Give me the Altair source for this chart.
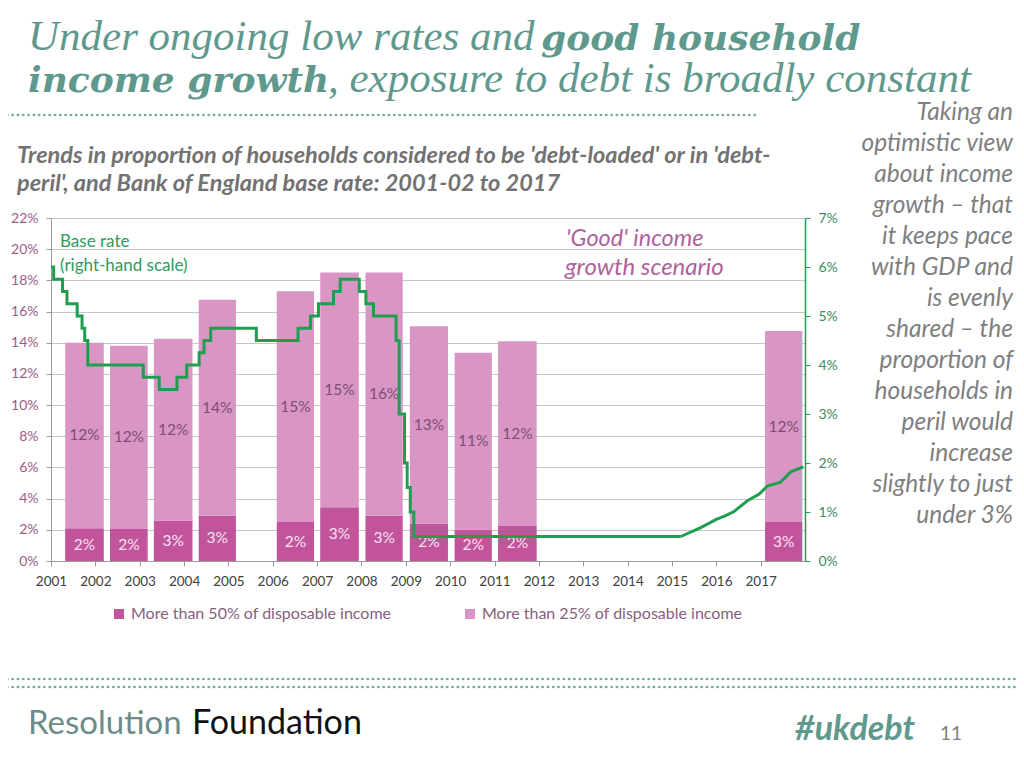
import altair as alt
import pandas as pd

# ---------------- data ----------------
bar_start = [2001.32, 2002.33, 2003.32, 2004.33, 2006.09, 2007.07, 2008.09, 2009.09, 2010.10, 2011.08, 2017.10]
bar_end = [2002.19, 2003.18, 2004.19, 2005.17, 2006.93, 2007.94, 2008.93, 2009.95, 2010.94, 2011.95, 2017.94]
over50 = [2.1, 2.05, 2.6, 2.9, 2.5, 3.45, 2.9, 2.4, 2.0, 2.25, 2.5]
over25 = [14.0, 13.8, 14.25, 16.75, 17.3, 18.5, 18.5, 15.05, 13.35, 14.1, 14.75]
label_low = ["2%", "2%", "3%", "3%", "2%", "3%", "3%", "2%", "2%", "2%", "3%"]
label_high = ["12%", "12%", "12%", "14%", "15%", "15%", "16%", "13%", "11%", "12%", "12%"]

rate_hist_year = [2001.0, 2001.06, 2001.26, 2001.36, 2001.59, 2001.70, 2001.76, 2001.83, 2003.08, 2003.44,
                  2003.84, 2004.06, 2004.34, 2004.45, 2004.60, 2005.63, 2006.57, 2006.85, 2007.03, 2007.37,
                  2007.52, 2007.95, 2008.10, 2008.27, 2008.78, 2008.85, 2008.97, 2009.03, 2009.10, 2009.18,
                  2015.20]
rate_hist_value = [6.0, 5.75, 5.5, 5.25, 5.0, 4.75, 4.5, 4.0, 3.75, 3.5,
                   3.75, 4.0, 4.25, 4.5, 4.75, 4.5, 4.75, 5.0, 5.25, 5.5,
                   5.75, 5.5, 5.25, 5.0, 4.5, 3.0, 2.0, 1.5, 1.0, 0.5,
                   0.5]
rate_proj_year = [2015.20, 2015.65, 2016.0, 2016.2, 2016.4, 2016.7, 2016.96, 2017.15, 2017.45, 2017.68, 2017.96]
rate_proj_value = [0.5, 0.68, 0.85, 0.92, 1.01, 1.23, 1.36, 1.53, 1.61, 1.82, 1.92]

year_ticks = list(range(2001, 2018))
left_ticks = list(range(0, 23, 2))
right_ticks = list(range(0, 8))

SER50 = "More than 50% of disposable income"
SER25 = "More than 25% of disposable income"

# ---------------- tables ----------------
rows = []
for s, e, a, b in zip(bar_start, bar_end, over50, over25):
    rows.append({"start": s, "end": e, "lo": 0.0, "hi": a, "series": SER50})
    rows.append({"start": s, "end": e, "lo": a, "hi": b, "series": SER25})
bars_df = pd.DataFrame(rows)

lab_df = pd.DataFrame({
    "start": bar_start, "end": bar_end, "d": over50, "t": over25,
    "low": label_low, "high": label_high,
})
hist_df = pd.DataFrame({"year": rate_hist_year, "rate": rate_hist_value})
proj_df = pd.DataFrame({"year": rate_proj_year, "rate": rate_proj_value})

# ---------------- style ----------------
DARK = "#C2549C"
LIGHT = "#D996C5"
GREEN = "#1F9E50"
TEAL = "#5F998D"
SANS = "Lato"

W, H = 754, 343
OX, OY = 51, 218  # plot origin on page

xscale = alt.Scale(domain=[2001, 2018], nice=False, zero=False)
xaxis = alt.Axis(values=year_ticks, format="d", title=None, grid=False, labelOverlap=False,
                 labelFlush=False, labelFont=SANS, labelFontSize=13.5, labelColor="#404040",
                 tickColor="#9a9a9a", domainColor="#9a9a9a", tickSize=5, labelPadding=8)
lscale = alt.Scale(domain=[0, 22], nice=False)
laxis = alt.Axis(values=left_ticks, labelExpr="datum.value + '%'", title=None,
                 grid=True, gridColor="#C6C6C6", gridWidth=1,
                 labelFont=SANS, labelFontSize=14, labelColor="#9B5C86",
                 tickColor="#9a9a9a", domainColor="#9a9a9a", tickSize=5, labelPadding=8)
rscale = alt.Scale(domain=[0, 7], nice=False)
raxis = alt.Axis(values=right_ticks, labelExpr="datum.value + '%'", title=None, orient="right",
                 grid=False, labelFont=SANS, labelFontSize=14, labelColor="#3C8C60",
                 tickColor=GREEN, domainColor=GREEN, domainWidth=1.5, tickSize=5, labelPadding=8)

bars = alt.Chart(bars_df).mark_bar(stroke=None).encode(
    x=alt.X("start:Q", scale=xscale, axis=xaxis),
    x2="end:Q",
    y=alt.Y("lo:Q", scale=lscale, axis=laxis),
    y2="hi:Q",
    color=alt.Color("series:N",
                    scale=alt.Scale(domain=[SER50, SER25], range=[DARK, LIGHT]),
                    legend=alt.Legend(title=None, orient="none", direction="horizontal",
                                      legendX=60, legendY=388, symbolType="square",
                                      symbolSize=100, symbolStrokeWidth=0, labelFont=SANS,
                                      labelFontSize=16, labelColor="#86607C",
                                      labelLimit=400, columnPadding=70, symbolOffset=0,
                                      labelOffset=4)),
)

base_lab = alt.Chart(lab_df).transform_calculate(
    xm="(datum.start + datum.end) / 2",
    ylow="datum.d / 2",
    yhigh="(datum.d + datum.t) / 2",
)
low_text = base_lab.mark_text(font=SANS, fontSize=15.5, color="#F7E1F1", baseline="middle").encode(
    x=alt.X("xm:Q", scale=xscale, axis=xaxis),
    y=alt.Y("ylow:Q", scale=lscale, axis=laxis),
    text="low:N",
)
high_text = base_lab.mark_text(font=SANS, fontSize=15.5, color="#7D4D73", baseline="middle").encode(
    x=alt.X("xm:Q", scale=xscale, axis=xaxis),
    y=alt.Y("yhigh:Q", scale=lscale, axis=laxis),
    text="high:N",
)

hist_line = alt.Chart(hist_df).mark_line(color=GREEN, strokeWidth=3, interpolate="step-after").encode(
    x=alt.X("year:Q", scale=xscale, axis=xaxis),
    y=alt.Y("rate:Q", scale=rscale, axis=raxis),
)
proj_line = alt.Chart(proj_df).mark_line(color=GREEN, strokeWidth=3).encode(
    x=alt.X("year:Q", scale=xscale, axis=xaxis),
    y=alt.Y("rate:Q", scale=rscale, axis=raxis),
)

one = pd.DataFrame({"a": [0]})


def txt(text, px, py, **kw):
    return alt.Chart(one).mark_text(baseline="alphabetic", **kw).encode(
        x=alt.value(px - OX), y=alt.value(py - OY), text=alt.value(text))


def dots(px1, px2, py):
    return alt.Chart(one).mark_rule(color="#6FA89A", strokeWidth=2.6, strokeDash=[0.1, 5.2],
                                    strokeCap="round").encode(
        x=alt.value(px1 - OX), x2=alt.value(px2 - OX), y=alt.value(py - OY))


SERIF = "Liberation Serif"
BSERIF = "DejaVu Serif"
annos = [
    txt("Under ongoing low rates and ", 28, 50, font=SERIF, fontSize=43, fontStyle="italic",
        color=TEAL, align="left"),
    txt("good household", 541, 50, font=BSERIF, fontSize=36, fontStyle="italic", fontWeight="bold",
        color=TEAL, align="left"),
    txt("income growth", 28, 92, font=BSERIF, fontSize=36, fontStyle="italic", fontWeight="bold",
        color=TEAL, align="left"),
    txt(", exposure to debt is broadly constant", 328, 92, font=SERIF, fontSize=43, fontStyle="italic",
        color=TEAL, align="left"),
    dots(2, 755, 115),
    txt("Trends in proportion of households considered to be 'debt-loaded' or in 'debt-", 17, 163,
        font=SANS, fontSize=23.5, fontWeight="bold", fontStyle="italic", color="#727272", align="left"),
    txt("peril', and Bank of England base rate: 2001-02 to 2017", 17, 191,
        font=SANS, fontSize=23.5, fontWeight="bold", fontStyle="italic", color="#727272", align="left"),
    txt("Base rate", 60, 247, font=SANS, fontSize=17, color="#2E9A5E", align="left"),
    txt("(right-hand scale)", 60, 271, font=SANS, fontSize=17, color="#2E9A5E", align="left"),
    txt("'Good' income", 566, 246, font=SANS, fontSize=23.5, fontStyle="italic", color="#B0629A",
        align="left"),
    txt("growth scenario", 565, 275, font=SANS, fontSize=24, fontStyle="italic", color="#B0629A",
        align="left"),
    dots(2, 1020, 679),
    dots(2, 1020, 687),
    txt("Resolution", 28, 734, font=SANS, fontSize=33, color="#6C8C88", align="left"),
    txt("Foundation", 192, 734, font=SANS, fontSize=34, color="#111111", align="left"),
    txt("#ukdebt", 795, 740, font=SANS, fontSize=34, fontWeight="bold", fontStyle="italic",
        color=TEAL, align="left"),
    txt("11", 940, 740, font=SANS, fontSize=19, color="#7F7F7F", align="left"),
]

side_lines = ["Taking an", "optimistic view", "about income", "growth \u2013 that", "it keeps pace",
              "with GDP and", "is evenly", "shared \u2013 the", "proportion of", "households in",
              "peril would", "increase", "slightly to just", "under 3%"]
for i, ln in enumerate(side_lines):
    annos.append(txt(ln, 1013, 120 + 31 * i, font=SANS, fontSize=24.5, fontStyle="italic",
                     color="#7F7F7F", align="right"))

left_group = alt.layer(bars, high_text, low_text, *annos)
right_group = alt.layer(hist_line, proj_line)

chart = alt.layer(left_group, right_group).resolve_scale(y="independent").properties(
    width=W, height=H,
    autosize=alt.AutoSizeParams(type="none"),
    padding={"left": OX - 8, "top": OY - 8, "right": 1016 - (OX + W), "bottom": 760 - (OY + H)},
).configure_view(stroke=None).configure(background="white")

chart.save("out.html", embed_options={"renderer": "svg", "actions": False})
